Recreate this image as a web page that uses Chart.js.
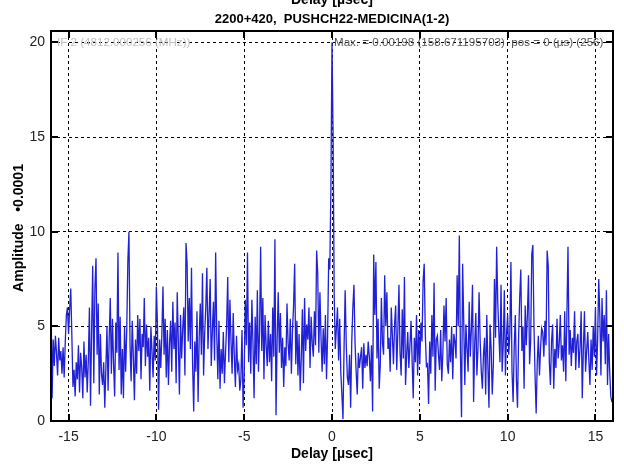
<!DOCTYPE html>
<html>
<head>
<meta charset="utf-8">
<script src="https://cdn.jsdelivr.net/npm/chart.js@4/dist/chart.umd.min.js"></script>
<style>
  html, body { margin: 0; padding: 0; background: #fff; }
  canvas { display: block; }
</style>
</head>
<body>
<canvas id="myChart" width="624" height="464"></canvas>
<script>
const TITLE = '2200+420,  PUSHCH22-MEDICINA(1-2)';
const X_LABEL = 'Delay [µsec]';
const Y_LABEL = 'Amplitude   •0.0001';
const IF_NOTE = 'IF 2 (4812.000256 (MHz))';
const MAX_NOTE = 'Max. = 0.00198 (158.671195703)  pos = 0 (µs) (256)';

// sampling of the delay axis (512 channels, peak in channel 256)
const delayStart = -16;
const delayStep = 0.0625;

// amplitude in units of 0.0001, one row per microsecond
const amplitude = [
    6.6, 1.2, 4.3, 2.9, 4.5, 3.6, 2.4, 4.4, 3.2, 3.7, 2.5, 3.9, 2.3, 4.2, 5.6, 6.0,
    4.6, 5.9, 7.0, 4.5, 1.8, 2.7, 1.3, 3.1, 2.2, 4.0, 1.5, 3.6, 2.8, 1.2, 4.2, 2.3,
    3.5, 1.5, 3.2, 6.0, 0.8, 4.8, 8.2, 2.0, 7.0, 8.6, 3.5, 6.2, 1.4, 4.6, 2.5, 1.9,
    3.1, 0.7, 2.8, 5.0, 1.6, 4.3, 6.5, 2.5, 5.4, 3.0, 1.3, 5.2, 3.6, 8.9, 2.7, 5.5,
    1.4, 3.8, 1.2, 5.0, 2.6, 4.8, 8.4, 10.0, 4.0, 2.1, 5.3, 3.4, 1.1, 4.3, 2.5, 5.6,
    3.7, 5.4, 2.2, 4.6, 3.9, 6.5, 2.9, 5.1, 3.4, 4.4, 1.6, 5.0, 3.7, 2.3, 4.5, 3.2,
    7.1, 5.0, 0.6, 4.3, 2.8, 4.6, 7.1, 3.5, 5.4, 2.3, 4.8, 1.9, 4.1, 5.3, 2.6, 6.3,
    3.8, 5.2, 2.0, 6.8, 4.2, 1.4, 5.6, 3.3, 4.9, 6.0, 2.4, 9.4, 8.3, 4.2, 6.5, 3.8,
    8.1, 3.0, 0.5, 4.2, 2.6, 5.8, 1.0, 4.4, 6.2, 3.5, 7.8, 2.4, 4.6, 6.0, 8.1, 3.8,
    5.6, 7.5, 2.9, 4.8, 6.3, 3.2, 8.9, 4.6, 2.2, 5.3, 1.7, 3.8, 2.5, 4.7, 2.0, 3.6,
    5.0, 7.6, 3.1, 6.4, 4.2, 2.5, 5.7, 3.4, 1.8, 4.5, 2.7, 3.0, 1.6, 2.2, 4.8, 0.7,
    2.4, 6.4, 4.0, 8.9, 3.1, 5.2, 2.5, 6.4, 4.1, 1.2, 5.5, 3.0, 6.9, 2.6, 4.7, 9.2,
    3.7, 6.5, 2.2, 5.6, 4.0, 2.9, 5.3, 3.1, 4.6, 2.1, 6.0, 3.4, 9.6, 0.3, 4.2, 6.8,
    3.6, 5.7, 2.8, 4.4, 1.8, 3.9, 2.9, 6.2, 4.1, 3.2, 5.4, 2.5, 4.8, 6.1, 8.3, 3.0,
    5.3, 2.4, 4.6, 1.6, 3.3, 5.9, 2.0, 6.5, 3.7, 5.1, 4.3, 6.0, 2.8, 5.5, 4.1, 3.4,
    5.8, 4.0, 9.0, 7.8, 3.6, 6.8, 4.4, 2.6, 4.9, 3.0, 5.6, 2.2, 4.5, 8.6, 8.0, 12.3,
    20.0, 15.0, 6.6, 3.8, 4.9, 6.0, 3.2, 5.4, 2.6, 1.4, 0.1, 3.9, 6.9, 4.0, 2.3, 1.9,
    3.5, 0.7, 4.2, 6.0, 7.2, 4.1, 2.6, 1.4, 3.6, 2.8, 3.4, 3.9, 1.7, 4.1, 2.8, 3.5,
    2.9, 4.2, 3.4, 2.1, 4.0, 0.5, 8.8, 5.6, 8.4, 3.3, 5.4, 1.7, 3.0, 6.5, 4.1, 3.5,
    7.7, 5.0, 6.8, 3.8, 4.4, 2.6, 6.0, 4.5, 3.0, 5.1, 6.1, 2.7, 4.8, 7.2, 3.6, 2.4,
    5.9, 3.3, 7.6, 1.9, 3.5, 4.7, 2.8, 4.0, 5.3, 3.2, 1.2, 4.4, 3.1, 5.6, 2.4, 4.8,
    3.0, 5.2, 4.2, 7.4, 8.3, 4.6, 2.9, 3.0, 0.9, 4.2, 2.5, 5.6, 3.4, 7.3, 1.6, 4.3,
    4.5, 3.5, 2.7, 4.8, 2.1, 3.6, 6.1, 4.2, 6.5, 3.0, 2.5, 4.3, 3.1, 5.0, 2.2, 4.6,
    4.2, 3.3, 7.7, 5.0, 9.8, 3.6, 0.2, 8.3, 5.3, 1.9, 5.1, 3.8, 2.6, 6.3, 3.4, 4.9,
    7.2, 1.0, 4.0, 5.7, 2.4, 3.9, 6.8, 4.2, 2.6, 1.7, 3.5, 4.4, 1.4, 5.6, 3.0, 0.7,
    5.1, 3.8, 1.4, 3.0, 7.5, 4.4, 9.2, 6.3, 4.7, 3.1, 7.2, 2.6, 4.0, 6.9, 2.4, 4.6,
    5.6, 3.5, 4.6, 8.4, 2.6, 1.0, 3.9, 5.6, 2.2, 0.7, 4.4, 6.5, 8.0, 3.7, 5.0, 1.7,
    6.1, 4.0, 5.6, 7.7, 3.0, 4.2, 8.8, 9.3, 5.0, 2.4, 0.4, 3.1, 4.5, 2.4, 3.8, 4.9,
    4.7, 3.4, 5.3, 4.0, 9.0, 8.2, 3.1, 1.9, 4.2, 5.1, 1.7, 3.8, 2.8, 5.4, 3.3, 4.1,
    5.6, 3.2, 4.0, 2.6, 5.8, 2.1, 5.6, 9.2, 3.5, 4.8, 2.9, 4.4, 3.6, 5.8, 2.7, 4.2,
    4.6, 2.8, 3.9, 5.8, 1.2, 3.8, 5.8, 2.6, 3.7, 4.7, 3.2, 1.9, 4.3, 2.7, 5.0, 3.4,
    6.0, 2.4, 4.3, 7.5, 5.6, 2.4, 6.5, 4.2, 5.6, 3.0, 6.9, 1.9, 4.6, 2.6, 1.3, 1.0
];

const xTickValues = [-15, -10, -5, 0, 5, 10, 15];
const yTickValues = [0, 5, 10, 15, 20];

const FONT = "'Liberation Sans', Arial, sans-serif";

// frame, inward tick marks and all the text around the plot
const decorations = {
    id: 'decorations',
    afterDraw(chart) {
        const { ctx, chartArea: a, scales } = chart;
        ctx.save();

        ctx.strokeStyle = '#000';
        ctx.lineWidth = 2;
        ctx.beginPath();
        xTickValues.forEach(v => {
            const px = Math.round(scales.x.getPixelForValue(v));
            ctx.moveTo(px, a.bottom); ctx.lineTo(px, a.bottom - 7);
            ctx.moveTo(px, a.top); ctx.lineTo(px, a.top + 7);
        });
        yTickValues.forEach(v => {
            const py = Math.round(scales.y.getPixelForValue(v));
            ctx.moveTo(a.left, py); ctx.lineTo(a.left + 7, py);
            ctx.moveTo(a.right, py); ctx.lineTo(a.right - 7, py);
        });
        ctx.stroke();
        ctx.strokeRect(a.left, a.top, a.right - a.left, a.bottom - a.top);

        const y20 = scales.y.getPixelForValue(20);
        ctx.font = '11.6px ' + FONT;
        ctx.textBaseline = 'middle';
        ctx.textAlign = 'left';
        ctx.fillStyle = '#c0c0c0';
        ctx.fillText(IF_NOTE, a.left + 6, y20);
        ctx.fillStyle = '#555';
        ctx.fillText(MAX_NOTE, scales.x.getPixelForValue(0) + 2, y20);

        ctx.fillStyle = '#000';
        ctx.textAlign = 'center';
        ctx.textBaseline = 'alphabetic';
        const cx = (a.left + a.right) / 2;
        ctx.font = 'bold 13px ' + FONT;
        ctx.fillText(TITLE, cx, 23);
        ctx.font = 'bold 14px ' + FONT;
        ctx.fillText(X_LABEL, cx, 4);
        ctx.fillText(X_LABEL, cx, 458);

        ctx.translate(23, (a.top + a.bottom) / 2 + 2);
        ctx.rotate(-Math.PI / 2);
        ctx.fillText(Y_LABEL, 0, 0);
        ctx.restore();
    }
};

const ctx = document.querySelector('#myChart');

const chart = new Chart(ctx, {
    type: 'line',
    data: {
        datasets: [{
            data: amplitude.map((v, i) => ({ x: delayStart + i * delayStep, y: v })),
            borderColor: '#2020d6',
            borderWidth: 1.3,
            pointRadius: 0,
            tension: 0
        }]
    },
    options: {
        responsive: false,
        animation: false,
        devicePixelRatio: 1,
        layout: { padding: { left: 0, right: 11, top: 31, bottom: 0 } },
        plugins: {
            legend: { display: false },
            tooltip: { enabled: false }
        },
        scales: {
            x: {
                type: 'linear',
                min: -16,
                max: 16,
                afterBuildTicks: s => { s.ticks = xTickValues.map(v => ({ value: v })); },
                afterFit: s => { s.height = 43; },
                grid: { color: '#000', lineWidth: 1, drawTicks: false },
                border: { display: false, dash: [3, 3] },
                ticks: { color: '#222', font: { family: FONT, size: 14 }, padding: 8, maxRotation: 0 }
            },
            y: {
                min: 0,
                max: 20.6,
                afterBuildTicks: s => { s.ticks = yTickValues.map(v => ({ value: v })); },
                afterFit: s => { s.width = 51; },
                grid: { color: '#000', lineWidth: 1, drawTicks: false },
                border: { display: false, dash: [3, 3] },
                ticks: { color: '#222', font: { family: FONT, size: 14 }, padding: 6 }
            }
        }
    },
    plugins: [decorations]
});
</script>
</body>
</html>
